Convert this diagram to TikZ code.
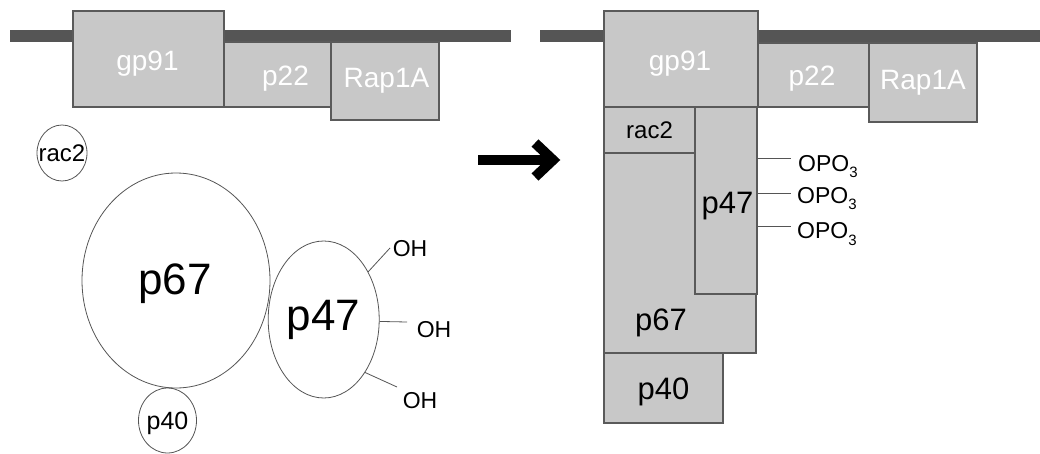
\documentclass[tikz,border=0pt]{standalone}
\usepackage{fontspec}
\setmainfont{Liberation Sans}
\usetikzlibrary{shapes.geometric,calc}
\definecolor{boxfill}{HTML}{C8C8C8}
\definecolor{boxline}{HTML}{5A5A5A}
\definecolor{barcol}{HTML}{555555}
\definecolor{ovalline}{HTML}{555555}
\newcommand{\fsz}[1]{\fontsize{#1}{#1}\selectfont}
\newcommand{\subthree}{\raisebox{-6pt}{\fsz{15}3}}
\begin{document}
\begin{tikzpicture}[x=1pt,y=-1pt,
  box/.style={draw=boxline, fill=boxfill, line width=1.1pt, inner sep=0pt},
  oval/.style={ellipse, draw=ovalline, line width=0.8pt, inner sep=0pt},
  wlab/.style={text=white, inner sep=0pt, font=\fsz{28}},
  blab/.style={text=black, inner sep=0pt},
  bar/.style={draw=barcol, line width=12pt},
  link/.style={draw=ovalline, line width=0.8pt},
  bigarrow/.style={line width=10pt, line join=miter, line cap=butt}]
\useasboundingbox (0,0) rectangle (1040,454);

% membranes
\coordinate (mL1) at (10,36.5);
\coordinate (mL2) at (511,36.5);
\coordinate (mR1) at (540,36.5);
\coordinate (mR2) at (1040,36.5);
\draw[bar] (mL1) -- (mL2);
\draw[bar] (mR1) -- (mR2);

% left membrane proteins
\node[box, minimum width=151, minimum height=96,
  label={[wlab,xshift=-1pt,yshift=-5pt]center:gp91}] (gp91L) at (148.5,59) {};
\node[box, minimum width=107, minimum height=65,
  label={[wlab,xshift=8pt,yshift=-4pt]center:p22}] (p22L) at (277.5,74.5) {};
\node[box, minimum width=108, minimum height=78,
  label={[wlab,xshift=1.5pt]center:Rap1A}] (rapL) at (385,81) {};

% left cytosolic components
\node[oval, minimum width=50, minimum height=56,
  label={[blab,font=\fsz{24}]center:rac2}] (rac2L) at (62,153) {};
\node[oval, minimum width=188, minimum height=215,
  label={[blab,font=\fsz{44},xshift=-1pt,yshift=-3pt]center:p67}] (p67L) at (176,280.5) {};
\node[oval, minimum width=111, minimum height=157,
  label={[blab,font=\fsz{44}]center:p47}] (p47L) at (323.7,319.5) {};
\node[oval, minimum width=58, minimum height=65,
  label={[blab,font=\fsz{25},yshift=-3pt]center:p40}] (p40L) at (167.5,420.5) {};

\node[blab, font=\fsz{23}] (oh1) at (410,249) {OH};
\node[blab, font=\fsz{23}] (oh2) at (434,330) {OH};
\node[blab, font=\fsz{23}] (oh3) at (420,401) {OH};
\coordinate (h1) at (390,248);
\coordinate (h2) at (407,322);
\coordinate (h3) at (397,387);
\draw[link] (p47L.47) -- (h1);
\draw[link] (p47L.-2) -- (h2);
\draw[link] (p47L.-52) -- (h3);

% arrow
\coordinate (aS) at (478,160);
\coordinate (aE) at (553,160);
\coordinate (aT) at (535,143);
\coordinate (aB) at (535,177);
\draw[bigarrow] (aS) -- (aE);
\draw[bigarrow] (aT) -- (aE) -- (aB);

% right assembled complex
\node[box, minimum width=154, minimum height=96,
  label={[wlab,xshift=-1pt,yshift=-5pt]center:gp91}] (gp91R) at (681,59) {};
\node[box, minimum width=111, minimum height=64,
  label={[wlab,xshift=-1.5pt,yshift=-3.5pt]center:p22}] (p22R) at (813.5,75) {};
\node[box, minimum width=108, minimum height=79,
  label={[wlab]center:Rap1A}] (rapR) at (923,82.5) {};
\node[box, minimum width=152, minimum height=200,
  label={[blab,font=\fsz{31},xshift=-19pt,yshift=-70pt]center:p67}] (p67R) at (680,253) {};
\node[box, minimum width=91, minimum height=46,
  label={[blab,font=\fsz{24}]center:rac2}] (rac2R) at (649.5,130) {};
\node[box, minimum width=62, minimum height=187,
  label={[blab,font=\fsz{31},xshift=1.5pt,yshift=-5.5pt]center:p47}] (p47R) at (726,200.5) {};
\node[box, minimum width=119, minimum height=70,
  label={[blab,font=\fsz{31},yshift=-3.5pt]center:p40}] (p40R) at (663.5,388) {};

\node[blab, font=\fsz{23}, anchor=base west] (opo1) at (798,172) {OPO\subthree};
\node[blab, font=\fsz{23}, anchor=base west] (opo2) at (797,204) {OPO\subthree};
\node[blab, font=\fsz{23}, anchor=base west] (opo3) at (797,239) {OPO\subthree};
\coordinate (o1) at (791,158);
\coordinate (o2) at (791,193);
\coordinate (o3) at (791,226);
\draw[link] (o1 -| p47R.east) -- (o1);
\draw[link] (o2 -| p47R.east) -- (o2);
\draw[link] (o3 -| p47R.east) -- (o3);
\end{tikzpicture}
\end{document}
